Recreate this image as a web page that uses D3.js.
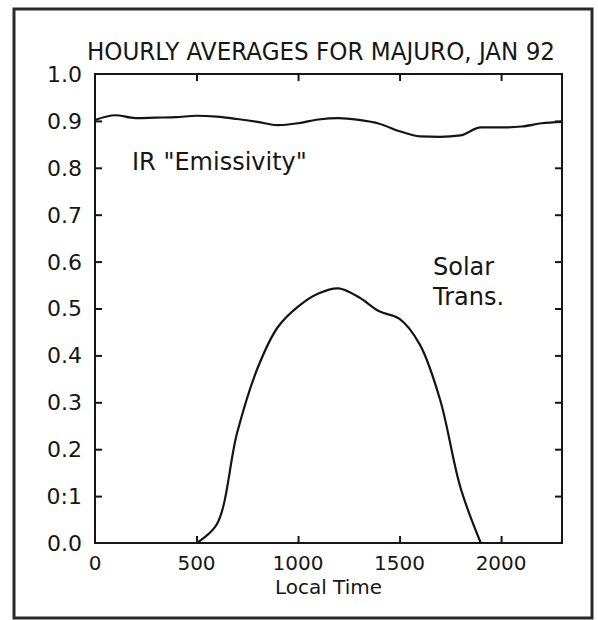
<!DOCTYPE html>
<html>
<head>
<meta charset="utf-8">
<script src="https://cdn.jsdelivr.net/npm/d3@7"></script>
<style>
  body { margin: 0; background: #fff; }
  svg { display: block; }
  text { font-family: "DejaVu Sans", sans-serif; fill: #161616; }
</style>
</head>
<body>
<svg></svg>
<script>
// Hourly local times (HHMM)
const hours = [0, 100, 200, 300, 400, 500, 600, 700, 800, 900, 1000, 1100,
               1200, 1300, 1400, 1500, 1600, 1700, 1800, 1900, 2000, 2100, 2200, 2300];

// IR "Emissivity"
const irValues = [0.902, 0.912, 0.906, 0.907, 0.908, 0.911, 0.909, 0.904, 0.898, 0.891, 0.895, 0.903,
                  0.906, 0.902, 0.894, 0.878, 0.867, 0.866, 0.869, 0.886, 0.886, 0.888, 0.895, 0.898];

// Solar transmission
const solarValues = [0, 0, 0, 0, 0, 0, 0.04, 0.235, 0.372, 0.46, 0.504, 0.532,
                     0.543, 0.524, 0.494, 0.478, 0.423, 0.305, 0.118, 0, 0, 0, 0, 0];

const xTicks = [0, 500, 1000, 1500, 2000];
const yTicks = [0, 0.1, 0.2, 0.3, 0.4, 0.5, 0.6, 0.7, 0.8, 0.9, 1.0];
const yTickLabels = ["0.0", "0:1", "0.2", "0.3", "0.4", "0.5", "0.6", "0.7", "0.8", "0.9", "1.0"];

const width = 598;
const height = 620;
const margin = { left: 95, top: 74, right: 36, bottom: 77 };

const svg = d3.select("svg")
    .attr("width", width)
    .attr("height", height);

// Outer frame
svg.append("rect")
    .attr("x", 14)
    .attr("y", 9)
    .attr("width", 578)
    .attr("height", 609)
    .attr("fill", "none")
    .attr("stroke", "#2a2a2a")
    .attr("stroke-width", 3);

const x = d3.scaleLinear().domain([0, 2300]).range([margin.left, width - margin.right]);
const y = d3.scaleLinear().domain([0, 1]).range([height - margin.bottom, margin.top]);

// Ticks pointing inward on all four sides
const tickLen = 7;
const tickColor = "#161616";

svg.append("g")
    .attr("transform", `translate(0,${y(0)})`)
    .call(d3.axisTop(x).tickValues(xTicks.slice(1)).tickSize(tickLen).tickFormat(""))
    .call(g => g.select(".domain").remove());

svg.append("g")
    .attr("transform", `translate(0,${y(1)})`)
    .call(d3.axisBottom(x).tickValues(xTicks.slice(1)).tickSize(tickLen).tickFormat(""))
    .call(g => g.select(".domain").remove());

svg.append("g")
    .attr("transform", `translate(${x(0)},0)`)
    .call(d3.axisRight(y).tickValues(yTicks.slice(1, -1)).tickSize(tickLen).tickFormat(""))
    .call(g => g.select(".domain").remove());

svg.append("g")
    .attr("transform", `translate(${x(2300)},0)`)
    .call(d3.axisLeft(y).tickValues(yTicks.slice(1, -1)).tickSize(tickLen).tickFormat(""))
    .call(g => g.select(".domain").remove());

svg.selectAll(".tick line")
    .attr("stroke", tickColor)
    .attr("stroke-width", 2);

// Plot box
svg.append("rect")
    .attr("x", x(0))
    .attr("y", y(1))
    .attr("width", x(2300) - x(0))
    .attr("height", y(0) - y(1))
    .attr("fill", "none")
    .attr("stroke", tickColor)
    .attr("stroke-width", 2);

// Tick labels
svg.append("g")
    .selectAll("text")
    .data(yTicks)
    .enter()
    .append("text")
    .attr("x", x(0) - 13)
    .attr("y", d => y(d))
    .attr("dy", "0.36em")
    .attr("text-anchor", "end")
    .style("font-size", "22px")
    .text((d, i) => yTickLabels[i]);

svg.append("g")
    .selectAll("text")
    .data(xTicks)
    .enter()
    .append("text")
    .attr("x", d => x(d))
    .attr("y", 570)
    .attr("text-anchor", "middle")
    .style("font-size", "20px")
    .text(d => d);

svg.append("text")
    .attr("x", (x(0) + x(2300)) / 2)
    .attr("y", 594)
    .attr("text-anchor", "middle")
    .style("font-size", "20px")
    .text("Local Time");

// Title
svg.append("text")
    .attr("x", 87)
    .attr("y", 60)
    .attr("textLength", 468)
    .attr("lengthAdjust", "spacingAndGlyphs")
    .style("font-size", "24px")
    .text("HOURLY AVERAGES FOR MAJURO, JAN 92");

// Lines
const irLine = d3.line()
    .x((d, i) => x(hours[i]))
    .y(d => y(d))
    .curve(d3.curveMonotoneX);

// Solar: only the daylight part (night zeros lie on the axis anyway)
const solarLine = d3.line()
    .defined((d, i) => d > 0 || solarValues[i - 1] > 0 || solarValues[i + 1] > 0)
    .x((d, i) => x(hours[i]))
    .y(d => y(d))
    .curve(d3.curveCatmullRom.alpha(0.5));

svg.append("path")
    .datum(irValues)
    .attr("d", irLine)
    .attr("fill", "none")
    .attr("stroke", "#141414")
    .attr("stroke-width", 2.2);

svg.append("path")
    .datum(solarValues)
    .attr("d", solarLine)
    .attr("fill", "none")
    .attr("stroke", "#141414")
    .attr("stroke-width", 2.2)
    .attr("stroke-linejoin", "round");

// Annotations
svg.append("text")
    .attr("x", 132)
    .attr("y", 170)
    .style("font-size", "24px")
    .text('IR "Emissivity"');

const solarLabel = svg.append("text")
    .attr("x", 433)
    .attr("y", 275)
    .style("font-size", "24px");
solarLabel.append("tspan").attr("x", 433).text("Solar");
solarLabel.append("tspan").attr("x", 433).attr("dy", 30).text("Trans.");
</script>
</body>
</html>
